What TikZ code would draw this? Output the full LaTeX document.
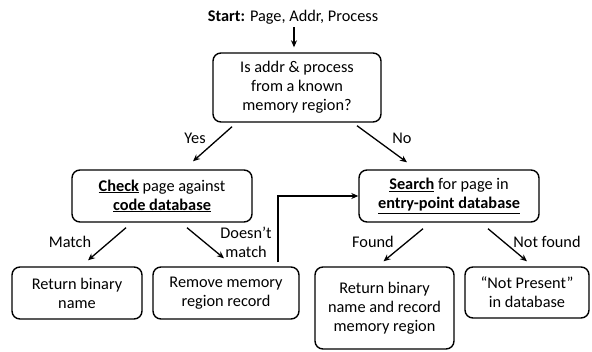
\documentclass[tikz,border=0pt]{standalone}
\usepackage{fontspec}
\setmainfont{Carlito}
\usepackage{tikz}
\usetikzlibrary{arrows.meta,positioning,calc}

\tikzset{
  box/.style={draw, line width=1.4pt, rounded corners=8pt, align=center, inner sep=0pt},
  arr/.style={-{Stealth[length=7pt,width=6pt]}, line width=1.3pt},
  lbl/.style={align=center, inner sep=0pt}
}

\begin{document}
\begin{tikzpicture}[
  x=1pt, y=-1pt,
  font=\fontsize{16.3}{19}\selectfont
]
\useasboundingbox (0,0) rectangle (592,351);

% boxes
\node[lbl] (start) at (293,17) {\textbf{Start:} Page, Addr, Process};
\node[box, minimum width=168pt, minimum height=69pt] (known) at (297,87.5)
  {Is addr \& process\\from a known\\memory region?};
\node[box, minimum width=180pt, minimum height=52pt] (check) at (162,196)
  {\underline{\textbf{Check}} page against\\\underline{\textbf{code database}}};
\node[box, minimum width=180pt, minimum height=52pt] (search) at (449,196)
  {\underline{\textbf{Search}} for page in\\\underline{\textbf{entry-point database}}};
\node[box, minimum width=130pt, minimum height=52pt] (binname) at (77,293)
  {Return binary\\name};
\node[box, minimum width=146pt, minimum height=52pt] (remove) at (226,293)
  {Remove memory\\region record};
\node[box, minimum width=139pt, minimum height=82pt] (binrecord) at (384.5,308)
  {Return binary\\name and record\\memory region};
\node[box, minimum width=124pt, minimum height=51pt] (notpresent) at (527,292.5)
  {“Not Present”\\in database};

% connectors
\draw[arr] ([xshift=1pt,yshift=-3pt]start.south) -- ([xshift=1pt,yshift=5pt]start.south |- known.north);
\draw[arr] ([xshift=-65pt,yshift=-4pt]known.south) -- ([xshift=31pt,yshift=8pt]check.north);
\draw[arr] ([xshift=60pt,yshift=-3pt]known.south) -- ([xshift=-42pt,yshift=7pt]search.north);
\draw[arr] ([xshift=-36pt,yshift=-5pt]check.south) -- ([xshift=11pt,yshift=6pt]binname.north);
\draw[arr] ([xshift=25pt,yshift=-5pt]check.south) -- ([xshift=-2pt,yshift=8pt]remove.north);
\draw[arr] ([xshift=52pt,yshift=4pt]remove.north) |- (search.west);
\draw[arr] ([xshift=-26pt,yshift=-6pt]search.south) -- ([xshift=-1pt,yshift=5pt]binrecord.north);
\draw[arr] ([xshift=39pt,yshift=-6pt]search.south) -- ([yshift=5pt]notpresent.north);

% labels
\node[lbl] (yes) at (195,138) {Yes};
\node[lbl] (no) at (402,138) {No};
\node[lbl] (match) at (70,242) {Match};
\node[lbl] (nomatch) at (246,242) {Doesn’t\\match};
\node[lbl] (found) at (373,242) {Found};
\node[lbl] (notfound) at (547,242) {Not found};
\end{tikzpicture}
\end{document}
